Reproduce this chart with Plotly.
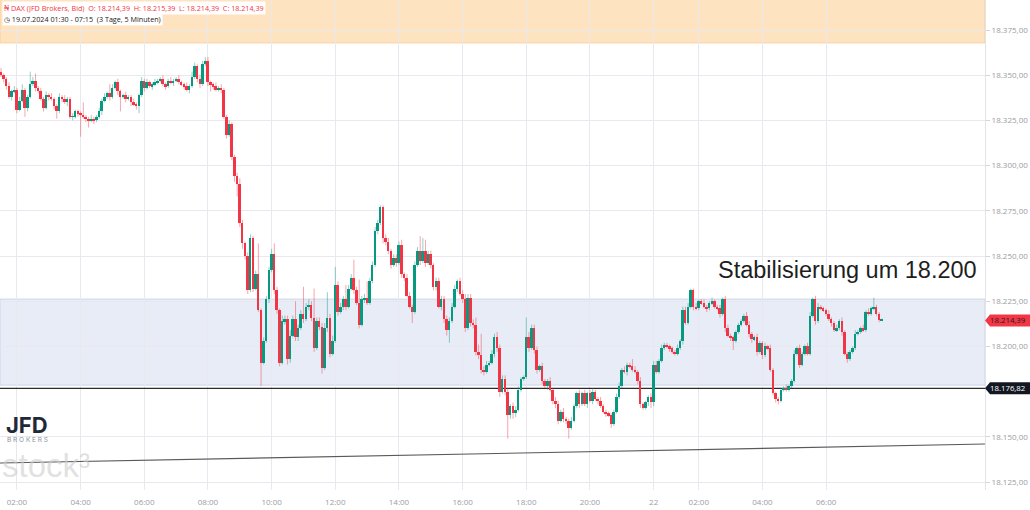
import plotly.graph_objects as go

# ---------------- data (5-minute DAX candles) ----------------
first_open = 18352
closes = [
    18350, 18348, 18344, 18338, 18341, 18342, 18331, 18336, 18342, 18332,   # 0
    18338, 18345, 18347, 18343, 18341, 18337, 18332, 18339, 18338, 18337,   # 10
    18333, 18330, 18338, 18337, 18335, 18337, 18327, 18327, 18330, 18329,   # 20
    18328, 18327, 18326, 18325, 18326, 18325, 18327, 18330, 18336, 18338,   # 30
    18340, 18338, 18343, 18346, 18341, 18338, 18339, 18337, 18338, 18335,   # 40
    18334, 18333, 18339, 18347, 18343, 18346, 18344, 18345, 18346, 18347,   # 50
    18348, 18345, 18344, 18347, 18346, 18347, 18348, 18346, 18345, 18344,   # 60
    18342, 18344, 18349, 18355, 18348, 18345, 18356, 18358, 18346, 18345,   # 70
    18344, 18342, 18343, 18342, 18327, 18317, 18323, 18305, 18294, 18290,   # 80
    18268, 18257, 18250, 18231, 18260, 18232, 18240, 18220, 18191, 18203,   # 90
    18226, 18242, 18251, 18231, 18220, 18191, 18214, 18215, 18193, 18206,   # 100
    18215, 18205, 18210, 18218, 18215, 18222, 18223, 18216, 18199, 18214,   # 110
    18211, 18188, 18210, 18216, 18196, 18203, 18234, 18219, 18222, 18226,   # 120
    18222, 18232, 18238, 18231, 18224, 18212, 18226, 18227, 18224, 18236,   # 130
    18245, 18264, 18268, 18277, 18260, 18258, 18253, 18245, 18249, 18246,   # 140
    18256, 18240, 18238, 18228, 18222, 18219, 18245, 18253, 18247, 18253,   # 150
    18246, 18251, 18245, 18233, 18236, 18222, 18226, 18215, 18209, 18214,   # 160
    18222, 18232, 18236, 18229, 18226, 18210, 18227, 18213, 18212, 18197,   # 170
    18195, 18187, 18186, 18190, 18191, 18196, 18205, 18199, 18175, 18182,   # 180
    18175, 18162, 18167, 18163, 18165, 18176, 18182, 18183, 18205, 18199,   # 190
    18210, 18198, 18187, 18189, 18181, 18178, 18181, 18176, 18170, 18168,   # 200
    18159, 18164, 18160, 18159, 18155, 18159, 18167, 18174, 18168, 18174,   # 210
    18168, 18174, 18170, 18175, 18171, 18170, 18167, 18164, 18163, 18162,   # 220
    18157, 18164, 18172, 18178, 18187, 18186, 18190, 18189, 18187, 18186,   # 230
    18181, 18168, 18166, 18169, 18172, 18169, 18190, 18186, 18192, 18199,   # 240
    18201, 18200, 18199, 18197, 18196, 18199, 18203, 18220, 18213, 18222,   # 250
    18231, 18222, 18221, 18225, 18224, 18222, 18221, 18224, 18225, 18222,   # 260
    18221, 18218, 18226, 18210, 18206, 18205, 18203, 18208, 18212, 18214,   # 270
    18217, 18212, 18207, 18204, 18205, 18197, 18202, 18195, 18200, 18199,   # 280
    18187, 18174, 18171, 18170, 18176, 18177, 18176, 18178, 18181, 18196,   # 290
    18199, 18190, 18196, 18200, 18196, 18217, 18226, 18214, 18222, 18221,   # 300
    18220, 18218, 18215, 18213, 18209, 18210, 18214, 18208, 18196, 18193,   # 310
    18197, 18199, 18207, 18208, 18210, 18209, 18219, 18218, 18221, 18222,   # 320
    18218, 18214.39, 18214.39,                                              # 330
]
up_wick = [
    2, 1, 1, 2, 1, 2, 1, 2, 3, 1,
    1, 7, 2, 4, 1, 2, 1, 2, 1, 2,
    1, 1, 2, 1, 2, 1, 1, 2, 1, 1,
    1, 7, 1, 1, 2, 1, 1, 2, 1, 2,
    1, 5, 2, 1, 2, 1, 1, 2, 1, 1,
    2, 1, 1, 2, 1, 2, 1, 1, 2, 1,
    1, 2, 1, 1, 2, 1, 1, 2, 1, 1,
    2, 1, 3, 2, 1, 2, 2, 2, 2, 1,
    1, 2, 1, 2, 1, 1, 2, 1, 1, 2,
    3, 2, 1, 2, 2, 1, 2, 17, 1, 2,
    2, 2, 3, 6, 2, 1, 3, 2, 2, 3,
    2, 10, 2, 2, 15, 2, 3, 2, 16, 2,
    2, 2, 3, 14, 2, 3, 10, 2, 2, 2,
    8, 2, 2, 10, 2, 13, 2, 2, 9, 2,
    2, 2, 2, 1, 1, 2, 2, 1, 2, 2,
    2, 3, 1, 2, 2, 1, 2, 2, 8, 7,
    6, 2, 2, 1, 2, 2, 2, 2, 2, 2,
    2, 2, 1, 2, 2, 3, 2, 2, 2, 4,
    4, 12, 2, 2, 1, 2, 2, 3, 2, 2,
    2, 2, 1, 2, 2, 2, 1, 1, 11, 3,
    2, 2, 2, 1, 2, 1, 1, 2, 1, 2,
    2, 1, 2, 1, 1, 2, 1, 1, 2, 1,
    2, 1, 2, 2, 1, 1, 2, 1, 1, 1,
    1, 1, 2, 2, 1, 2, 1, 1, 4, 2,
    1, 2, 1, 1, 1, 2, 2, 2, 1, 2,
    1, 1, 1, 1, 1, 2, 1, 2, 2, 2,
    1, 1, 2, 1, 1, 2, 1, 1, 2, 1,
    1, 2, 1, 2, 2, 1, 1, 1, 1, 1,
    1, 2, 2, 1, 1, 2, 1, 1, 2, 1,
    2, 1, 1, 1, 1, 1, 2, 1, 1, 2,
    1, 2, 1, 1, 2, 2, 1, 2, 2, 1,
    1, 1, 2, 1, 1, 2, 1, 2, 1, 1,
    1, 1, 2, 1, 1, 2, 1, 2, 1, 5,
    1, 1, 1,
]
low_wick = [
    1, 2, 2, 1, 2, 1, 2, 1, 1, 5,
    2, 1, 1, 2, 1, 1, 2, 1, 2, 1,
    2, 4, 1, 2, 1, 2, 1, 2, 1, 2,
    12, 1, 2, 4, 1, 2, 1, 1, 2, 1,
    1, 2, 1, 1, 2, 8, 1, 2, 1, 2,
    1, 2, 4, 1, 2, 1, 1, 2, 1, 1,
    1, 1, 2, 1, 1, 2, 1, 1, 1, 2,
    1, 2, 1, 1, 2, 2, 1, 1, 2, 4,
    2, 1, 1, 2, 1, 2, 1, 2, 3, 7,
    2, 3, 2, 2, 1, 2, 1, 1, 13, 1,
    1, 2, 1, 2, 2, 2, 1, 2, 3, 2,
    1, 2, 2, 1, 2, 1, 2, 2, 2, 1,
    2, 3, 1, 2, 2, 1, 1, 2, 1, 2,
    2, 1, 1, 2, 1, 2, 1, 2, 1, 1,
    1, 1, 2, 1, 3, 2, 2, 2, 1, 2,
    1, 2, 2, 1, 1, 6, 1, 1, 2, 1,
    2, 1, 2, 2, 2, 1, 2, 2, 3, 7,
    1, 1, 2, 1, 2, 2, 1, 2, 2, 2,
    2, 2, 2, 1, 1, 1, 2, 2, 3, 1,
    2, 13, 2, 3, 2, 1, 1, 1, 1, 2,
    1, 2, 2, 1, 2, 1, 2, 1, 2, 2,
    2, 1, 2, 2, 6, 1, 1, 1, 2, 1,
    1, 2, 1, 2, 1, 2, 1, 1, 2, 1,
    2, 1, 1, 1, 1, 1, 2, 1, 1, 1,
    2, 2, 1, 1, 2, 3, 2, 1, 1, 1,
    1, 1, 2, 1, 1, 1, 1, 2, 1, 1,
    1, 2, 1, 1, 1, 1, 2, 1, 1, 1,
    1, 2, 1, 2, 1, 2, 5, 1, 1, 1,
    1, 1, 2, 2, 1, 2, 1, 2, 1, 1,
    1, 1, 2, 2, 1, 1, 1, 1, 1, 1,
    1, 2, 1, 1, 1, 1, 1, 2, 1, 1,
    1, 1, 1, 2, 1, 1, 1, 2, 1, 2,
    1, 1, 1, 1, 1, 1, 1, 1, 1, 1,
    1, 1, 0,
]

# time axis: bar index of each label
time_tick_idx = [6, 30, 54, 78, 102, 126, 150, 174, 198, 222, 246, 263, 287, 311]
time_tick_lbl = ["02:00", "04:00", "06:00", "08:00", "10:00", "12:00", "14:00",
                 "16:00", "18:00", "20:00", "22", "02:00", "04:00", "06:00"]
price_ticks = [18125, 18150, 18200, 18225, 18250, 18275, 18300, 18325, 18350, 18375]

# levels drawn on the chart
resistance_zone = [18367.8, 18400.0]     # orange zone at the top
support_zone = [18178.6, 18226.2]        # blue zone
support_line = 18176.82                  # black horizontal line
last_price = 18214.39
trend_x = [-0.4, 370.9]
trend_y = [18135.5, 18146.0]

x_range = [-0.4, 370.9]
y_range = [18120.6, 18391.6]


def de(v):
    return f"{v:,.2f}".replace(",", "X").replace(".", ",").replace("X", ".")


UP = "#089981"
DOWN = "#f23645"
UP_W = "rgba(8,153,129,0.45)"
DOWN_W = "rgba(242,54,69,0.45)"

n = len(closes)
opens = [first_open] + closes[:-1]
highs = [max(o, c) + u for o, c, u in zip(opens, closes, up_wick)]
lows = [min(o, c) - l for o, c, l in zip(opens, closes, low_wick)]
idx = list(range(n))

fig = go.Figure()

for is_up, wick_col in [(True, UP_W), (False, DOWN_W)]:
    sel = [i for i in idx if (closes[i] >= opens[i]) == is_up]
    wx, wy = [], []
    for i in sel:
        wx += [i, i, None]
        wy += [lows[i], highs[i], None]
    fig.add_trace(go.Scatter(x=wx, y=wy, mode="lines",
                             line=dict(color=wick_col, width=1),
                             hoverinfo="skip", showlegend=False))
for is_up, body_col in [(True, UP), (False, DOWN)]:
    sel = [i for i in idx if (closes[i] >= opens[i]) == is_up]
    fig.add_trace(go.Bar(
        x=sel,
        base=[min(opens[i], closes[i]) for i in sel],
        y=[max(abs(closes[i] - opens[i]), 0.4) for i in sel],
        width=0.75, marker=dict(color=body_col, line=dict(width=0)),
        hoverinfo="skip", showlegend=False))

shapes = [
    dict(type="rect", xref="x", yref="y", x0=x_range[0], x1=x_range[1],
         y0=resistance_zone[0], y1=resistance_zone[1], layer="below",
         fillcolor="#fee3c0", line=dict(color="rgba(245,190,120,0.55)", width=1)),
    dict(type="rect", xref="x", yref="y", x0=x_range[0], x1=x_range[1],
         y0=support_zone[0], y1=support_zone[1], layer="below",
         fillcolor="#e7ecf7", line=dict(color="rgba(190,203,230,0.7)", width=1)),
    dict(type="line", xref="x", yref="y", x0=x_range[0], x1=x_range[1],
         y0=support_line, y1=support_line, layer="between",
         line=dict(color="#2b2b2b", width=1.2)),
    dict(type="line", xref="x", yref="y", x0=trend_x[0], x1=trend_x[1],
         y0=trend_y[0], y1=trend_y[1], layer="above",
         line=dict(color="#5a5a5a", width=1.1)),
]
for lvl, col in [(last_price, DOWN), (support_line, "#131722")]:
    shapes.append(dict(type="path", xref="paper", yref="y",
                       xsizemode="pixel", ysizemode="pixel", xanchor=1, yanchor=lvl,
                       path="M 0,0 L 5,6 L 46,6 L 46,-6 L 5,-6 Z",
                       fillcolor=col, line=dict(width=0), layer="above"))

annotations = [
    dict(xref="paper", yref="y", x=1, y=last_price, xanchor="left", yanchor="middle",
         xshift=4, text=de(last_price), showarrow=False, borderpad=0,
         font=dict(family="Open Sans", size=7.8, color="#1d1d1d")),
    dict(xref="paper", yref="y", x=1, y=support_line, xanchor="left", yanchor="middle",
         xshift=4, text=de(support_line), showarrow=False, borderpad=0,
         font=dict(family="Open Sans", size=7.8, color="#ffffff")),
    dict(xref="paper", yref="paper", x=0, y=1, xanchor="left", yanchor="top",
         xshift=2, yshift=-1, showarrow=False, bgcolor="white", borderpad=1,
         text="₦ DAX (JFD Brokers, Bid)  O: 18.214,39  H: 18.215,39  L: 18.214,39  C: 18.214,39",
         font=dict(family="Open Sans", size=7.2, color=DOWN)),
    dict(xref="paper", yref="paper", x=0, y=1, xanchor="left", yanchor="top",
         xshift=2, yshift=-12, showarrow=False, bgcolor="white", borderpad=1,
         text="◷ 19.07.2024 01:30 - 07:15  (3 Tage, 5 Minuten)",
         font=dict(family="Open Sans", size=7.2, color="#222222")),
    dict(xref="paper", yref="paper", x=0.8604, y=0.449, xanchor="center", yanchor="middle",
         text="Stabilisierung um 18.200", showarrow=False,
         font=dict(family="Liberation Sans", size=23.5, color="#1e1e1e")),
    dict(xref="paper", yref="paper", x=0, y=0.1327, xanchor="left", yanchor="middle",
         xshift=4, text="<b>JFD</b>", showarrow=False,
         font=dict(family="Inter", size=22, color="#1f2a38")),
    dict(xref="paper", yref="paper", x=0, y=0.102, xanchor="left", yanchor="middle",
         xshift=5, text="B R O K E R S", showarrow=False,
         font=dict(family="Inter", size=6.5, color="#8a919b")),
    dict(xref="paper", yref="paper", x=0, y=0.049, xanchor="left", yanchor="middle",
         xshift=0, text="stock³", showarrow=False,
         font=dict(family="Liberation Sans", size=33, color="rgba(205,205,205,0.6)")),
]

fig.update_layout(
    width=1030, height=510,
    margin=dict(l=0, r=45, t=0, b=20),
    paper_bgcolor="white", plot_bgcolor="white",
    barmode="overlay", bargap=0, showlegend=False, hovermode=False,
    shapes=shapes, annotations=annotations,
    xaxis=dict(range=x_range, tickvals=time_tick_idx, ticktext=time_tick_lbl,
               showgrid=True, gridcolor="#e8e8ee", gridwidth=1, zeroline=False,
               showline=False, ticks="", ticklabelstandoff=6,
               tickfont=dict(family="Open Sans", size=8, color="#9a9ca5"),
               fixedrange=True),
    yaxis=dict(range=y_range, side="right", tickvals=price_ticks,
               ticktext=[de(v) for v in price_ticks],
               showgrid=True, gridcolor="#e8e8ee", gridwidth=1, zeroline=False,
               showline=True, linecolor="#e3e3e8", linewidth=1,
               ticks="outside", ticklen=4, tickcolor="#d5d5dc",
               tickfont=dict(family="Open Sans", size=8, color="#9a9ca5"),
               fixedrange=True),
)

fig.write_html("out.html")
